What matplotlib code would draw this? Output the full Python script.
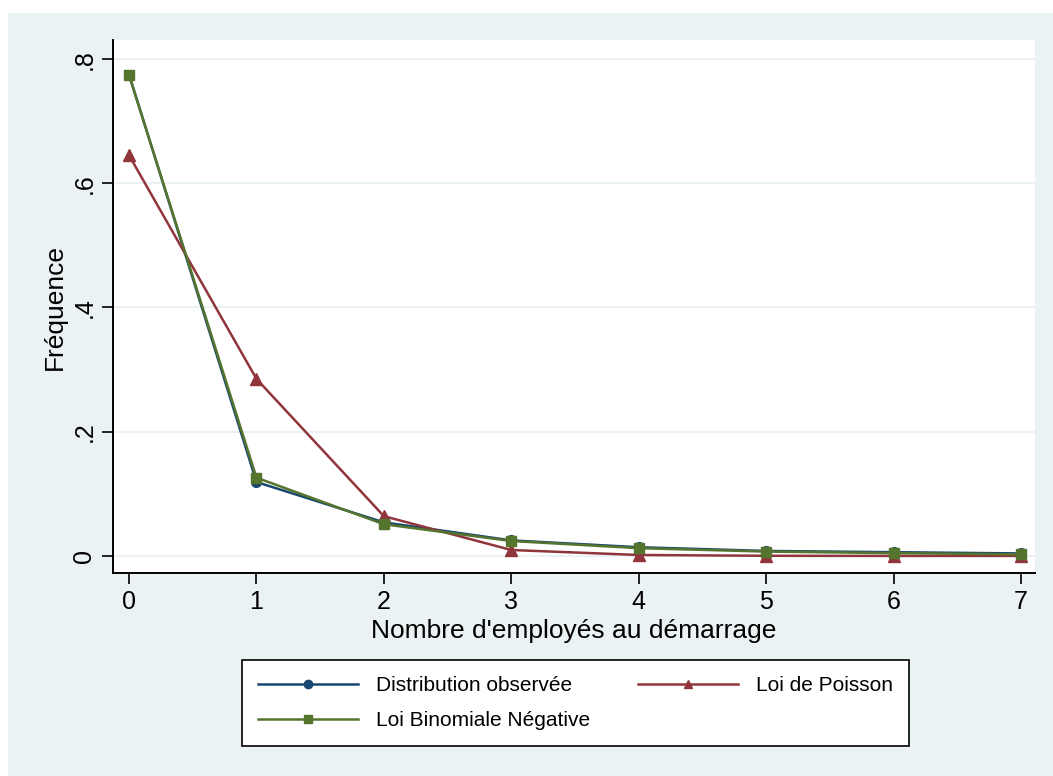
import matplotlib
matplotlib.use("Agg")
import matplotlib.pyplot as plt
from matplotlib.patches import Rectangle

plt.rcParams['font.family'] = ['Liberation Sans', 'DejaVu Sans']

x = [0, 1, 2, 3, 4, 5, 6, 7]
observee = [0.775, 0.119, 0.054, 0.025, 0.014, 0.008, 0.006, 0.004]
poisson = [0.645, 0.285, 0.064, 0.0095, 0.0015, 0.0002, 0.0, 0.0]
binneg = [0.774, 0.126, 0.051, 0.024, 0.0125, 0.007, 0.0045, 0.0025]

yticks = [0, 0.2, 0.4, 0.6, 0.8]
ylabels = ["0", ".2", ".4", ".6", ".8"]

bg = "#eaf2f3"
navy = "#1a476f"
maroon = "#90353b"
green = "#55752f"

W, H = 1053, 776
fig = plt.figure(figsize=(W / 100, H / 100), dpi=100)
fig.patch.set_facecolor("white")
fig.patches.append(Rectangle((8 / W, 0), 1 - 8 / W, 1 - 13 / H,
                             transform=fig.transFigure, facecolor=bg,
                             edgecolor="none", zorder=-10))

ax = fig.add_axes([113 / W, 1 - 573 / H, (1035 - 113) / W, (573 - 40) / H])
ax.set_facecolor("white")

l1, = ax.plot(x, observee, color=navy, lw=1.8, marker="o", ms=7, label="Distribution observée")
l2, = ax.plot(x, poisson, color=maroon, lw=1.8, marker="^", ms=8, label="Loi de Poisson")
l3, = ax.plot(x, binneg, color=green, lw=1.8, marker="s", ms=7, label="Loi Binomiale Négative")

ax.set_xlim(-0.126, 7.11)
ax.set_ylim(-0.0275, 0.8307)
ax.set_xticks(x)
ax.set_yticks(yticks)
ax.set_yticklabels(ylabels, rotation=90, va="center")
ax.tick_params(axis="both", labelsize=18, length=8, width=1.2, color="black", pad=4)
ax.grid(axis="y", color=bg, lw=1.5)
ax.set_axisbelow(True)

for side in ["top", "right"]:
    ax.spines[side].set_visible(False)
for side in ["left", "bottom"]:
    ax.spines[side].set_linewidth(1.4)

ax.set_xlabel("Nombre d'employés au démarrage", fontsize=19, labelpad=4)
ax.set_ylabel("Fréquence", fontsize=19, labelpad=4)

# column-major fill: obs + binneg in first column, poisson in second
leg = fig.legend([l1, l3, l2], [l1.get_label(), l3.get_label(), l2.get_label()],
                 loc="center", bbox_to_anchor=((240 + 911) / 2 / W, 1 - 703 / H),
                 ncol=2, fontsize=15, frameon=True, fancybox=False,
                 edgecolor="black", facecolor="white", framealpha=1,
                 handlelength=4.8, columnspacing=2.3, handletextpad=0.85,
                 borderpad=0.8, labelspacing=0.75)
leg.get_frame().set_linewidth(1.2)
for h in leg.legend_handles:
    h.set_markersize(6)

fig.savefig("out.png", dpi=100, facecolor=fig.get_facecolor())
